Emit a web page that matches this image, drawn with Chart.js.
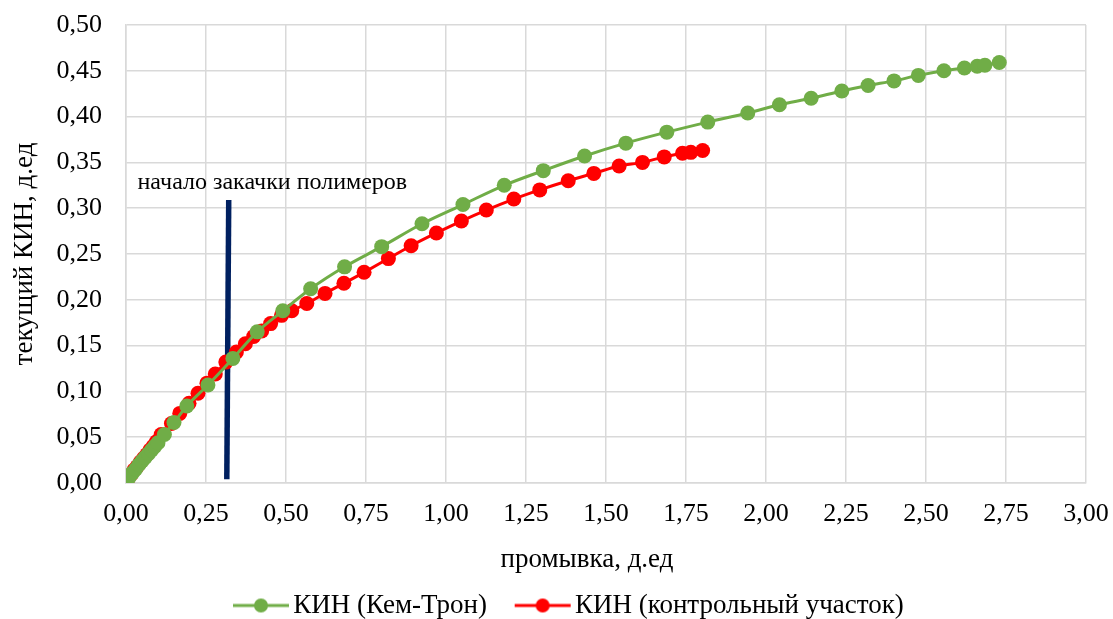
<!DOCTYPE html>
<html>
<head>
<meta charset="utf-8">
<script src="https://cdn.jsdelivr.net/npm/chart.js@4.4.1/dist/chart.umd.min.js"></script>
<style>
  html, body { margin: 0; padding: 0; background: #ffffff; }
  #wrap { width: 1113px; height: 619px; position: relative; }
</style>
</head>
<body>
<div id="wrap"><canvas id="chart"></canvas></div>
<script>
// промывка, д.ед / текущий КИН, д.ед
const kemTronX = [0.000, 0.010, 0.020, 0.030, 0.040, 0.050, 0.060, 0.070, 0.080, 0.090, 0.100, 0.120, 0.150, 0.190,
  0.256, 0.334, 0.410, 0.490, 0.577, 0.683, 0.799, 0.925, 1.053, 1.182, 1.304, 1.433, 1.562, 1.690, 1.818,
  1.943, 2.042, 2.141, 2.237, 2.319, 2.400, 2.476, 2.556, 2.620, 2.660, 2.684, 2.729];
const kemTronY = [0.002, 0.006, 0.011, 0.015, 0.020, 0.024, 0.028, 0.032, 0.036, 0.040, 0.044, 0.053, 0.066, 0.084,
  0.107, 0.136, 0.165, 0.188, 0.212, 0.236, 0.258, 0.283, 0.304, 0.325, 0.341, 0.357, 0.371, 0.383, 0.394,
  0.404, 0.413, 0.420, 0.428, 0.434, 0.439, 0.445, 0.450, 0.453, 0.455, 0.456, 0.459];

const controlX = [0.005, 0.015, 0.025, 0.035, 0.045, 0.055, 0.065, 0.075, 0.085, 0.095, 0.110, 0.142, 0.168, 0.197,
  0.225, 0.253, 0.279, 0.312, 0.345, 0.373, 0.399, 0.424, 0.452, 0.486, 0.518, 0.565, 0.622, 0.681, 0.744,
  0.820, 0.891, 0.970, 1.048, 1.126, 1.212, 1.293, 1.382, 1.462, 1.541, 1.614, 1.682, 1.739, 1.765, 1.802];
const controlY = [0.004, 0.009, 0.014, 0.018, 0.023, 0.027, 0.031, 0.036, 0.040, 0.045, 0.053, 0.065, 0.076, 0.087,
  0.098, 0.109, 0.119, 0.132, 0.143, 0.152, 0.160, 0.166, 0.174, 0.183, 0.188, 0.196, 0.207, 0.218, 0.230,
  0.245, 0.259, 0.273, 0.286, 0.298, 0.310, 0.320, 0.330, 0.338, 0.346, 0.350, 0.356, 0.360, 0.361, 0.363];

// "начало закачки полимеров" marker
const polymerLineX = [0.315, 0.321];
const polymerLineY = [0.004, 0.309];
const polymerLabel = "начало закачки полимеров";
const polymerLabelPos = [0.036, 0.328];

const seriesNames = ["КИН (Кем-Трон)", "КИН (контрольный участок)"];
const xTitle = "промывка, д.ед";
const yTitle = "текущий КИН, д.ед";

const GREEN = "#70ad47";
const RED = "#ff0000";
const NAVY = "#002060";
const FONT = "'Liberation Serif', 'Times New Roman', serif";

function toPoints(xs, ys) {
  return xs.map((x, i) => ({ x: x, y: ys[i] }));
}

function commaFmt(value) {
  return Number(value).toFixed(2).replace(".", ",");
}

// legend symbol: line with a marker, Excel style.
// left part of the canvas is left empty so the gaps around it match Excel
function legendSymbol(color) {
  const c = document.createElement("canvas");
  c.width = 91;
  c.height = 16;
  const g = c.getContext("2d");
  g.strokeStyle = color;
  g.lineWidth = 3;
  g.beginPath();
  g.moveTo(34, 8);
  g.lineTo(90, 8);
  g.stroke();
  g.fillStyle = color;
  g.beginPath();
  g.arc(62, 8, 7, 0, Math.PI * 2);
  g.fill();
  return c;
}

const labelPlugin = {
  id: "extraText",
  afterDatasetsDraw(chart) {
    const ctx = chart.ctx;
    const xs = chart.scales.x;
    const ys = chart.scales.y;
    const area = chart.chartArea;
    ctx.save();
    ctx.fillStyle = "#000000";
    ctx.textBaseline = "middle";
    ctx.font = "24px " + FONT;
    ctx.textAlign = "left";
    ctx.fillText(polymerLabel, xs.getPixelForValue(polymerLabelPos[0]), ys.getPixelForValue(polymerLabelPos[1]));
    // x axis title, Excel puts it a little left of centre
    ctx.font = "27px " + FONT;
    ctx.textAlign = "center";
    ctx.fillText(xTitle, (area.left + area.right) / 2 - 19, area.bottom + 77);
    ctx.restore();
  },
};

const symbols = [legendSymbol(GREEN), legendSymbol(RED)];

new Chart(document.getElementById("chart"), {
  type: "line",
  data: {
    datasets: [
      {
        label: seriesNames[0],
        data: toPoints(kemTronX, kemTronY),
        borderColor: GREEN,
        backgroundColor: GREEN,
        borderWidth: 3,
        pointRadius: 7.5,
        pointBorderWidth: 0,
        cubicInterpolationMode: "monotone",
      },
      {
        label: seriesNames[1],
        data: toPoints(controlX, controlY),
        borderColor: RED,
        backgroundColor: RED,
        borderWidth: 3,
        pointRadius: 7.5,
        pointBorderWidth: 0,
        cubicInterpolationMode: "monotone",
      },
      {
        label: "polymer",
        data: toPoints(polymerLineX, polymerLineY),
        borderColor: NAVY,
        borderWidth: 5.5,
        pointRadius: 0,
      },
    ],
  },
  options: {
    responsive: true,
    maintainAspectRatio: false,
    animation: false,
    layout: { padding: { top: 25, right: 0, left: 0, bottom: -10 } },
    plugins: {
      tooltip: { enabled: false },
      legend: {
        position: "bottom",
        labels: {
          usePointStyle: true,
          pointStyleWidth: 70.5,
          padding: 4,
          color: "#000000",
          font: { family: FONT, size: 27 },
          filter: (item) => item.datasetIndex < 2,
          generateLabels: (chart) =>
            chart.data.datasets.map((ds, i) => ({
              text: ds.label,
              pointStyle: symbols[i] || "circle",
              fillStyle: ds.borderColor,
              strokeStyle: ds.borderColor,
              lineWidth: 0,
              datasetIndex: i,
              hidden: false,
            })),
        },
      },
    },
    scales: {
      x: {
        type: "linear",
        min: 0,
        max: 3,
        ticks: {
          stepSize: 0.25,
          color: "#000000",
          font: { family: FONT, size: 26 },
          padding: 16,
          maxRotation: 0,
          callback: commaFmt,
        },
        grid: { color: "#d9d9d9", lineWidth: 1.5, drawTicks: false },
        border: { color: "#d9d9d9", width: 1.5 },
        title: { display: false },
        afterFit: (scale) => {
          scale.height = 105;
          scale.paddingLeft = 0;
          scale.paddingRight = 27;
        },
      },
      y: {
        min: 0,
        max: 0.5,
        ticks: {
          stepSize: 0.05,
          color: "#000000",
          font: { family: FONT, size: 26 },
          padding: 24,
          callback: commaFmt,
        },
        grid: { color: "#d9d9d9", lineWidth: 1.5, drawTicks: false },
        border: { color: "#d9d9d9", width: 1.5 },
        title: {
          display: true,
          text: yTitle,
          color: "#000000",
          font: { family: FONT, size: 27 },
          padding: { top: 9, bottom: 0 },
        },
        afterFit: (scale) => {
          scale.width = 126;
          scale.paddingTop = 0;
          scale.paddingBottom = 0;
        },
      },
    },
  },
  plugins: [labelPlugin],
});
</script>
</body>
</html>
